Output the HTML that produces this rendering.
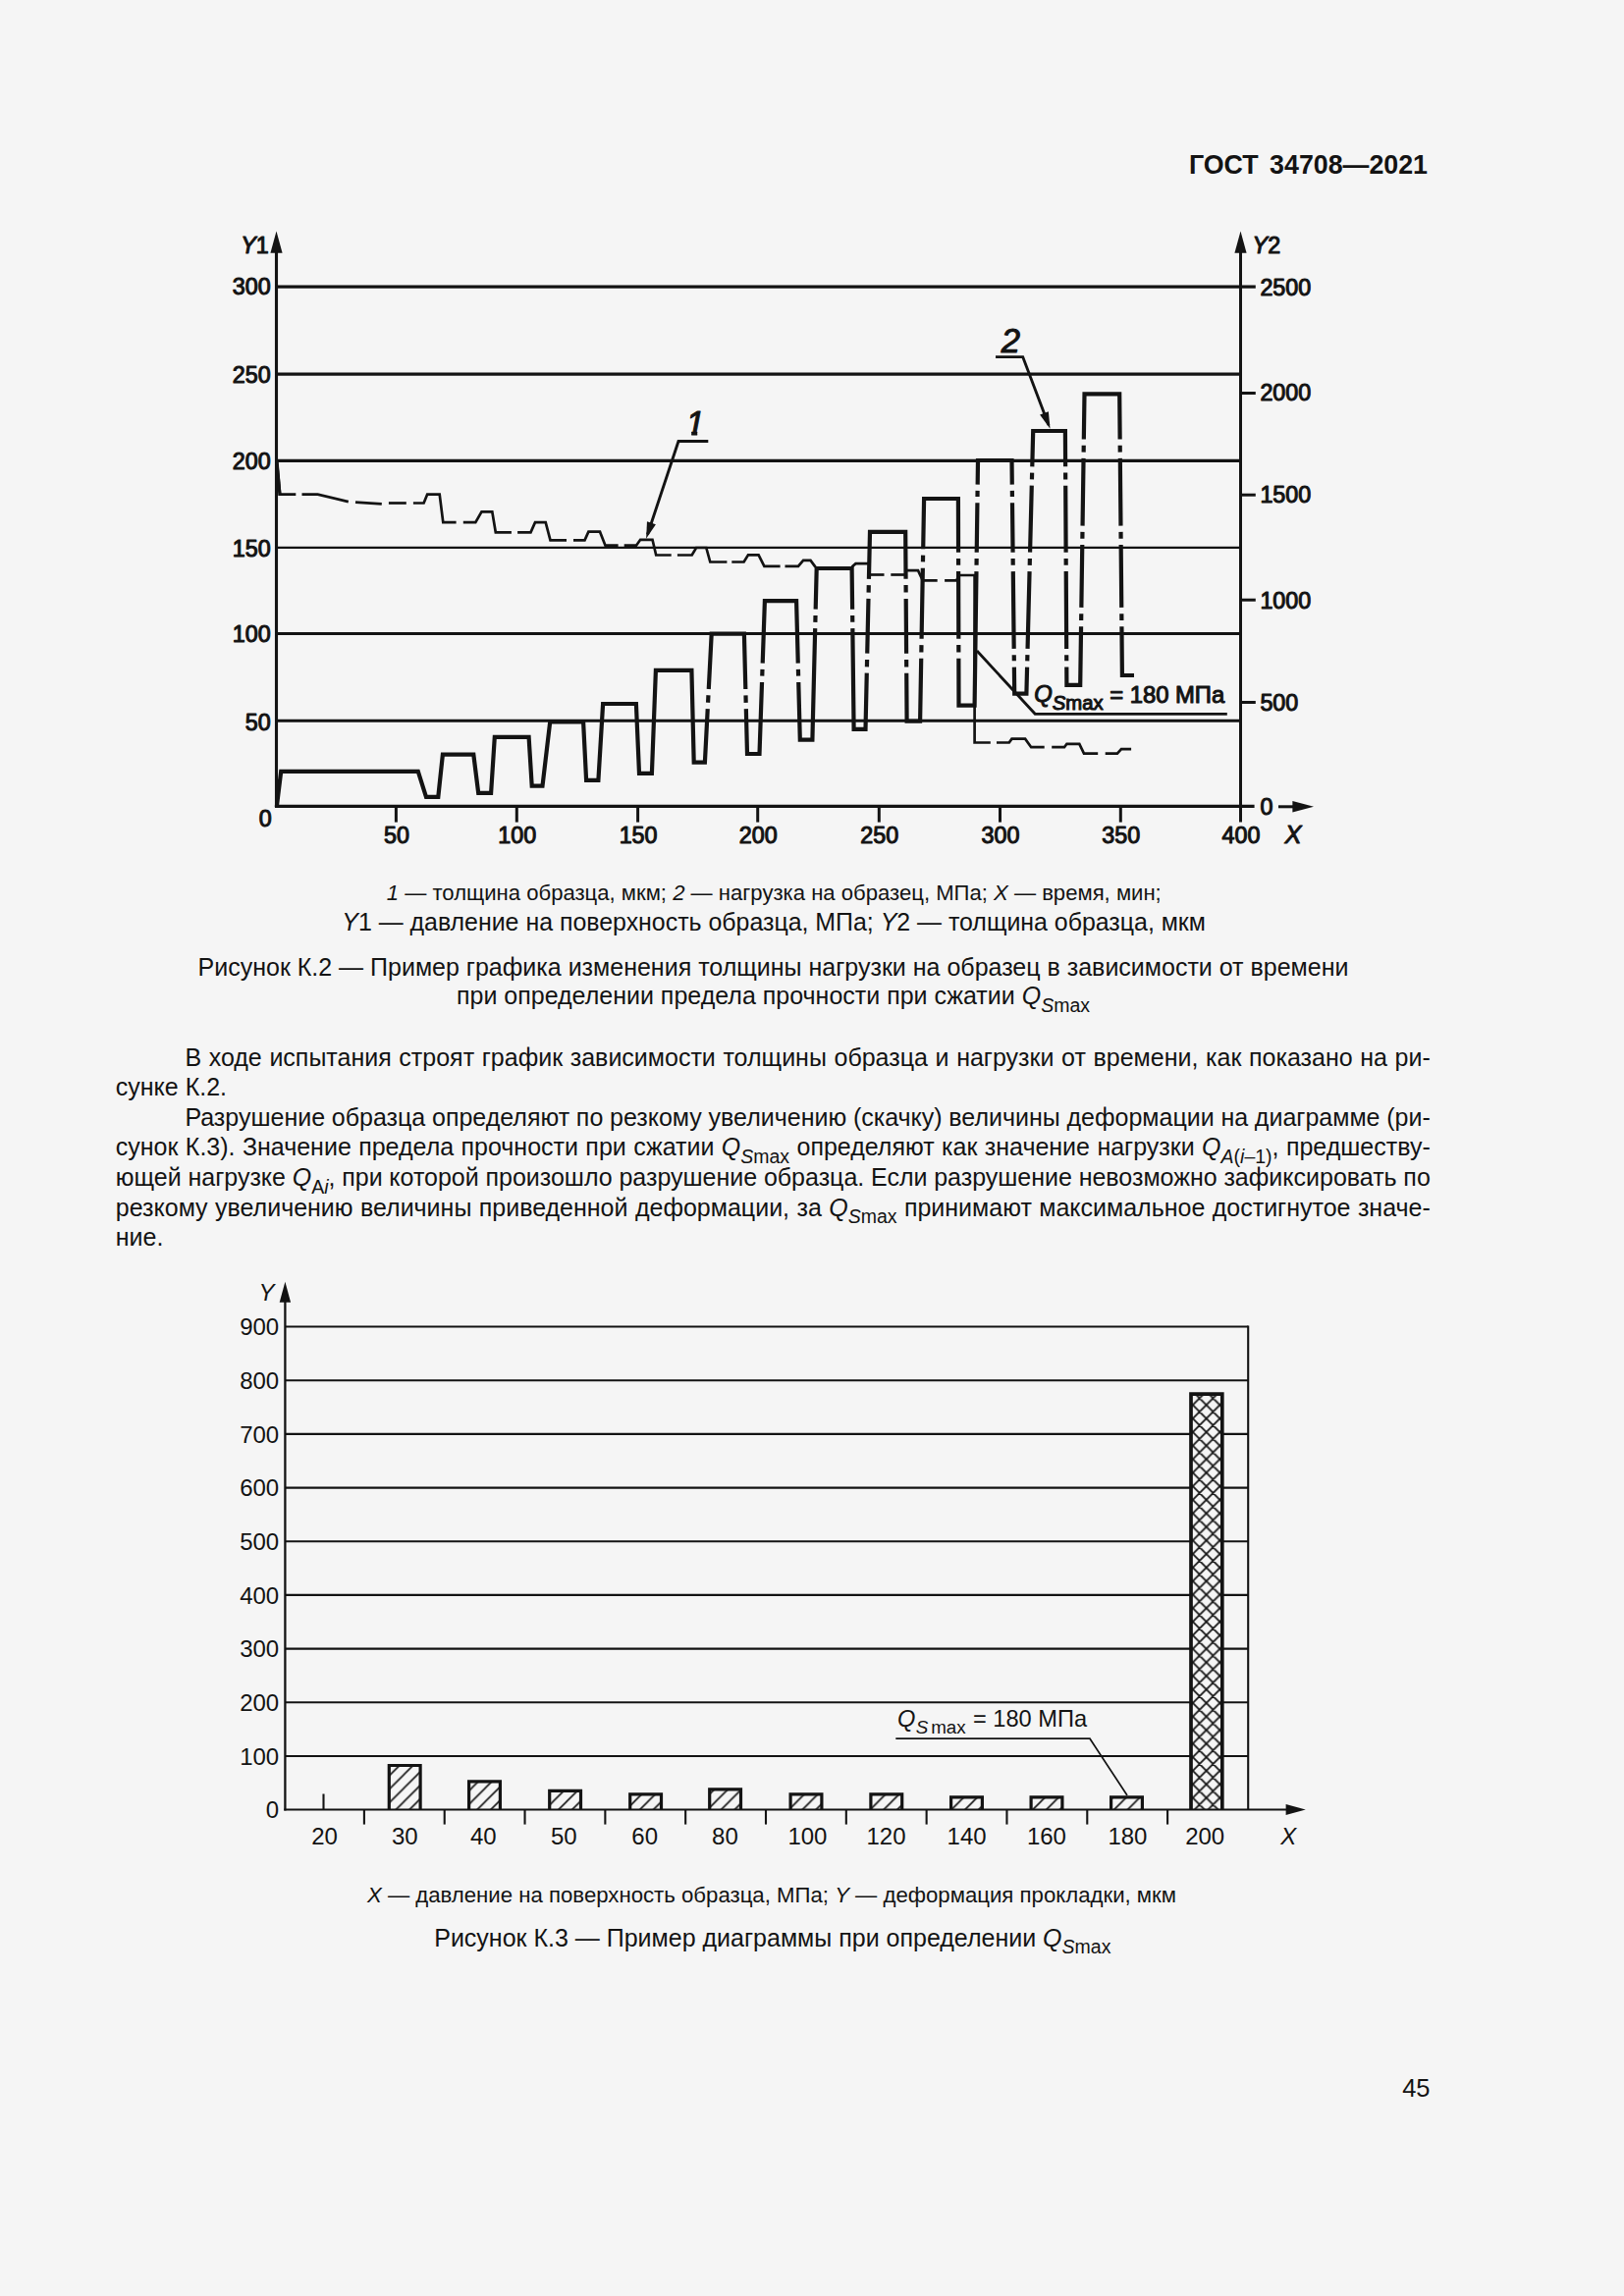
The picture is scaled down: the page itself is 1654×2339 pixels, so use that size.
<!DOCTYPE html>
<html lang="ru"><head><meta charset="utf-8"><title>ГОСТ 34708—2021</title>
<style>
html,body{margin:0;padding:0;background:#f5f5f5;}
body{width:1654px;height:2339px;position:relative;overflow:hidden;font-family:'Liberation Sans', Arial, sans-serif;color:#131313;}
svg{position:absolute;left:0;top:0;}
.t{position:absolute;white-space:nowrap;line-height:30px;font-size:25px;}
.j{text-align:justify;text-align-last:justify;white-space:nowrap;}
.s{font-size:19.5px;position:relative;top:7.8px;line-height:0;}
i{font-style:italic;}
</style></head><body>
<svg width="1654" height="2339" viewBox="0 0 1654 2339">
<g id="chart1">
<path d="M281.8 822 L286.2 785.9 L425.8 785.9 L434 811.8 L446.3 811.8 L450.9 768.7 L482.3 768.7 L487.2 807.8 L500.1 807.8 L503.8 750.9 L538.6 750.9 L541.7 800.7 L552.5 800.7 L560.2 735.5 L594.1 735.5 L597.1 794.9 L609.4 794.9 L614.1 717 L647.9 717 L651 787.8 L663.9 787.8 L667.9 682.8 L704.4 682.8 L706.7 776.7 L717.9 776.7 L724.7 645.6 L757.9 645.6 L761 768 L773.5 768 L778.9 612.2 L811.1 612.2 L814.8 753.7 L827.4 753.7 L831.7 579 L867.6 579 L869.6 742.9 L881.5 742.9 L886 541.9 L922.2 541.9 L923.6 734.6 L937.1 734.6 L941.1 508 L975.9 508 L976.5 718.6 L992.6 718.6 L996 469 L1030.5 469 L1033.2 706.7 L1045.4 706.7 L1052.2 439 L1084.9 439 L1086.4 697.9 L1100.2 697.9 L1104.5 401.3 L1140.2 401.3 L1142.9 688 L1155 688" fill="none" stroke="#131313" stroke-width="4.2" stroke-linejoin="miter" stroke-miterlimit="3"/>
<line x1="721.77" y1="702" x2="721.45" y2="708.3" stroke="#f5f5f5" stroke-width="7"/>
<line x1="721.06" y1="715.8" x2="720.73" y2="722.1" stroke="#f5f5f5" stroke-width="7"/>
<line x1="759.33" y1="702" x2="759.49" y2="708.3" stroke="#f5f5f5" stroke-width="7"/>
<line x1="759.68" y1="715.8" x2="759.84" y2="722.1" stroke="#f5f5f5" stroke-width="7"/>
<line x1="776.7" y1="675.6" x2="776.48" y2="681.9" stroke="#f5f5f5" stroke-width="7"/>
<line x1="776.25" y1="688.7" x2="776.03" y2="695" stroke="#f5f5f5" stroke-width="7"/>
<line x1="812.76" y1="675.6" x2="812.92" y2="681.9" stroke="#f5f5f5" stroke-width="7"/>
<line x1="813.1" y1="688.7" x2="813.27" y2="695" stroke="#f5f5f5" stroke-width="7"/>
<line x1="830.67" y1="620.7" x2="830.52" y2="627" stroke="#f5f5f5" stroke-width="7"/>
<line x1="830.35" y1="633.8" x2="830.2" y2="640.1" stroke="#f5f5f5" stroke-width="7"/>
<line x1="868.11" y1="620.7" x2="868.19" y2="627" stroke="#f5f5f5" stroke-width="7"/>
<line x1="868.27" y1="633.8" x2="868.35" y2="640.1" stroke="#f5f5f5" stroke-width="7"/>
<line x1="884.93" y1="589.8" x2="884.79" y2="596.1" stroke="#f5f5f5" stroke-width="7"/>
<line x1="884.62" y1="603.6" x2="884.48" y2="609.9" stroke="#f5f5f5" stroke-width="7"/>
<line x1="883.23" y1="665.7" x2="883.09" y2="672" stroke="#f5f5f5" stroke-width="7"/>
<line x1="882.92" y1="679.4" x2="882.78" y2="685.7" stroke="#f5f5f5" stroke-width="7"/>
<line x1="922.55" y1="589.8" x2="922.59" y2="596.1" stroke="#f5f5f5" stroke-width="7"/>
<line x1="922.65" y1="603.6" x2="922.69" y2="609.9" stroke="#f5f5f5" stroke-width="7"/>
<line x1="923.1" y1="665.7" x2="923.15" y2="672" stroke="#f5f5f5" stroke-width="7"/>
<line x1="923.2" y1="679.4" x2="923.24" y2="685.7" stroke="#f5f5f5" stroke-width="7"/>
<line x1="940.19" y1="559.3" x2="940.08" y2="565.6" stroke="#f5f5f5" stroke-width="7"/>
<line x1="939.96" y1="572.4" x2="939.85" y2="578.7" stroke="#f5f5f5" stroke-width="7"/>
<line x1="938.58" y1="650.8" x2="938.47" y2="657.1" stroke="#f5f5f5" stroke-width="7"/>
<line x1="938.34" y1="664.5" x2="938.23" y2="670.8" stroke="#f5f5f5" stroke-width="7"/>
<line x1="976.06" y1="562.7" x2="976.07" y2="569" stroke="#f5f5f5" stroke-width="7"/>
<line x1="976.09" y1="575.8" x2="976.11" y2="582.1" stroke="#f5f5f5" stroke-width="7"/>
<line x1="976.31" y1="650.8" x2="976.32" y2="657.1" stroke="#f5f5f5" stroke-width="7"/>
<line x1="976.35" y1="664.5" x2="976.36" y2="670.8" stroke="#f5f5f5" stroke-width="7"/>
<line x1="995.66" y1="493.6" x2="995.58" y2="499.9" stroke="#f5f5f5" stroke-width="7"/>
<line x1="995.5" y1="506" x2="995.41" y2="512.3" stroke="#f5f5f5" stroke-width="7"/>
<line x1="994.72" y1="562.7" x2="994.64" y2="569" stroke="#f5f5f5" stroke-width="7"/>
<line x1="994.55" y1="575.8" x2="994.46" y2="582.1" stroke="#f5f5f5" stroke-width="7"/>
<line x1="1030.78" y1="493.6" x2="1030.85" y2="499.9" stroke="#f5f5f5" stroke-width="7"/>
<line x1="1030.92" y1="506" x2="1030.99" y2="512.3" stroke="#f5f5f5" stroke-width="7"/>
<line x1="1031.56" y1="562.7" x2="1031.64" y2="569" stroke="#f5f5f5" stroke-width="7"/>
<line x1="1031.71" y1="575.8" x2="1031.78" y2="582.1" stroke="#f5f5f5" stroke-width="7"/>
<line x1="1032.68" y1="660.9" x2="1032.75" y2="667.2" stroke="#f5f5f5" stroke-width="7"/>
<line x1="1032.82" y1="673.3" x2="1032.89" y2="679.6" stroke="#f5f5f5" stroke-width="7"/>
<line x1="1051.28" y1="475.3" x2="1051.12" y2="481.6" stroke="#f5f5f5" stroke-width="7"/>
<line x1="1050.95" y1="488.4" x2="1050.79" y2="494.7" stroke="#f5f5f5" stroke-width="7"/>
<line x1="1049.06" y1="562.7" x2="1048.9" y2="569" stroke="#f5f5f5" stroke-width="7"/>
<line x1="1048.73" y1="575.8" x2="1048.57" y2="582.1" stroke="#f5f5f5" stroke-width="7"/>
<line x1="1046.56" y1="660.9" x2="1046.4" y2="667.2" stroke="#f5f5f5" stroke-width="7"/>
<line x1="1046.25" y1="673.3" x2="1046.09" y2="679.6" stroke="#f5f5f5" stroke-width="7"/>
<line x1="1085.11" y1="475.3" x2="1085.15" y2="481.6" stroke="#f5f5f5" stroke-width="7"/>
<line x1="1085.19" y1="488.4" x2="1085.22" y2="494.7" stroke="#f5f5f5" stroke-width="7"/>
<line x1="1085.62" y1="562.7" x2="1085.65" y2="569" stroke="#f5f5f5" stroke-width="7"/>
<line x1="1085.69" y1="575.8" x2="1085.73" y2="582.1" stroke="#f5f5f5" stroke-width="7"/>
<line x1="1086.19" y1="660.9" x2="1086.22" y2="667.2" stroke="#f5f5f5" stroke-width="7"/>
<line x1="1086.26" y1="673.3" x2="1086.29" y2="679.6" stroke="#f5f5f5" stroke-width="7"/>
<line x1="1103.83" y1="447.5" x2="1103.74" y2="453.8" stroke="#f5f5f5" stroke-width="7"/>
<line x1="1103.64" y1="460.6" x2="1103.55" y2="466.9" stroke="#f5f5f5" stroke-width="7"/>
<line x1="1102.55" y1="535.6" x2="1102.46" y2="541.9" stroke="#f5f5f5" stroke-width="7"/>
<line x1="1102.36" y1="548.7" x2="1102.27" y2="555" stroke="#f5f5f5" stroke-width="7"/>
<line x1="1101.35" y1="618.9" x2="1101.25" y2="625.2" stroke="#f5f5f5" stroke-width="7"/>
<line x1="1101.16" y1="632" x2="1101.06" y2="638.3" stroke="#f5f5f5" stroke-width="7"/>
<line x1="1140.64" y1="447.5" x2="1140.69" y2="453.8" stroke="#f5f5f5" stroke-width="7"/>
<line x1="1140.76" y1="460.6" x2="1140.82" y2="466.9" stroke="#f5f5f5" stroke-width="7"/>
<line x1="1141.46" y1="535.6" x2="1141.52" y2="541.9" stroke="#f5f5f5" stroke-width="7"/>
<line x1="1141.59" y1="548.7" x2="1141.65" y2="555" stroke="#f5f5f5" stroke-width="7"/>
<line x1="1142.25" y1="618.9" x2="1142.31" y2="625.2" stroke="#f5f5f5" stroke-width="7"/>
<line x1="1142.37" y1="632" x2="1142.43" y2="638.3" stroke="#f5f5f5" stroke-width="7"/>
<line x1="280" y1="292.2" x2="1278.8" y2="292.2" stroke="#131313" stroke-width="3.2"/>
<line x1="280" y1="381.2" x2="1263.5" y2="381.2" stroke="#131313" stroke-width="3.2"/>
<line x1="280" y1="469.4" x2="1263.5" y2="469.4" stroke="#131313" stroke-width="3.2"/>
<line x1="280" y1="557.8" x2="1263.5" y2="557.8" stroke="#131313" stroke-width="2.2"/>
<line x1="280" y1="645.5" x2="1263.5" y2="645.5" stroke="#131313" stroke-width="3.2"/>
<line x1="280" y1="734.2" x2="1263.5" y2="734.2" stroke="#131313" stroke-width="3.0"/>
<line x1="280" y1="821.3" x2="1277.6" y2="821.3" stroke="#131313" stroke-width="3.3"/>
<line x1="281.5" y1="250" x2="281.5" y2="822.9" stroke="#131313" stroke-width="3.1"/>
<line x1="1263.5" y1="250" x2="1263.5" y2="837.6" stroke="#131313" stroke-width="3.0"/>
<path d="M281.5 235.5 L287.6 257.8 L275.4 257.8 Z" fill="#131313"/>
<path d="M1263.5 235.5 L1269.6 257.8 L1257.4 257.8 Z" fill="#131313"/>
<line x1="403.4" y1="821" x2="403.4" y2="837.6" stroke="#131313" stroke-width="3"/>
<line x1="526.3" y1="821" x2="526.3" y2="837.6" stroke="#131313" stroke-width="3"/>
<line x1="649.6" y1="821" x2="649.6" y2="837.6" stroke="#131313" stroke-width="3"/>
<line x1="771.7" y1="821" x2="771.7" y2="837.6" stroke="#131313" stroke-width="3"/>
<line x1="895.3" y1="821" x2="895.3" y2="837.6" stroke="#131313" stroke-width="3"/>
<line x1="1018.5" y1="821" x2="1018.5" y2="837.6" stroke="#131313" stroke-width="3"/>
<line x1="1141.3" y1="821" x2="1141.3" y2="837.6" stroke="#131313" stroke-width="3"/>
<line x1="1263.5" y1="400.5" x2="1278.8" y2="400.5" stroke="#131313" stroke-width="3"/>
<line x1="1263.5" y1="504.2" x2="1278.8" y2="504.2" stroke="#131313" stroke-width="3"/>
<line x1="1263.5" y1="611.2" x2="1278.8" y2="611.2" stroke="#131313" stroke-width="3"/>
<line x1="1263.5" y1="715.5" x2="1278.8" y2="715.5" stroke="#131313" stroke-width="3"/>
<line x1="1302" y1="821.8" x2="1318" y2="821.8" stroke="#131313" stroke-width="3"/>
<path d="M1338 821.8 L1316.4 816 L1316.4 827.6 Z" fill="#131313"/>
<path d="M282.1 471.4 L285.2 503.6 L301.3 503.6" fill="none" stroke="#131313" stroke-width="2.7" stroke-linejoin="miter"/>
<path d="M307.5 503.6 L323.6 503.6 L354.8 511.1" fill="none" stroke="#131313" stroke-width="2.7" stroke-linejoin="miter"/>
<path d="M362 511.6 L388.8 513.4" fill="none" stroke="#131313" stroke-width="2.7" stroke-linejoin="miter"/>
<path d="M395.9 512.5 L413.8 512.5" fill="none" stroke="#131313" stroke-width="2.7" stroke-linejoin="miter"/>
<path d="M420.9 512.5 L431.6 512.5 L435.2 503.6 L447.7 503.6 L451.3 532.1 L464.6 532.1" fill="none" stroke="#131313" stroke-width="2.7" stroke-linejoin="miter"/>
<path d="M471.8 532.1 L484.3 532.1 L490.5 521.4 L501.3 521.4 L504.8 542.3 L520.9 542.3" fill="none" stroke="#131313" stroke-width="2.7" stroke-linejoin="miter"/>
<path d="M527.1 542.3 L540.5 542.3 L545 532.1 L555.7 532.1 L560.5 550.3 L577 550.3" fill="none" stroke="#131313" stroke-width="2.7" stroke-linejoin="miter"/>
<path d="M584 550.3 L595.5 550.3 L599.4 541.7 L611 541.7 L616.5 555.7 L629.6 555.7" fill="none" stroke="#131313" stroke-width="2.7" stroke-linejoin="miter"/>
<path d="M635.7 555.7 L648 555.7 L652.2 549.8 L664.5 549.8 L668.2 565.5 L683.7 565.5" fill="none" stroke="#131313" stroke-width="2.7" stroke-linejoin="miter"/>
<path d="M689.9 565.5 L704.7 565.5 L709.1 558 L719.3 558 L723.3 572.5 L740.4 572.5" fill="none" stroke="#131313" stroke-width="2.7" stroke-linejoin="miter"/>
<path d="M745.3 572.5 L757.6 572.5 L762 565.4 L772.6 565.4 L778.4 576.9 L794.6 576.9" fill="none" stroke="#131313" stroke-width="2.7" stroke-linejoin="miter"/>
<path d="M799.5 576.9 L813 576.9 L818.1 570.9 L825.5 570.9 L830.5 577.6" fill="none" stroke="#131313" stroke-width="2.7" stroke-linejoin="miter"/>
<path d="M867.6 577.5 L871.5 574.2 L884.5 574.2" fill="none" stroke="#131313" stroke-width="2.7" stroke-linejoin="miter"/>
<path d="M886.9 585.5 L900.5 585.5" fill="none" stroke="#131313" stroke-width="2.7" stroke-linejoin="miter"/>
<path d="M907.3 585.5 L921 585.5" fill="none" stroke="#131313" stroke-width="2.7" stroke-linejoin="miter"/>
<path d="M922.2 581.2 L935 581.2 L939.8 591.4 L954.7 591.4" fill="none" stroke="#131313" stroke-width="2.7" stroke-linejoin="miter"/>
<path d="M962.1 591.4 L974.3 591.4 L976.3 586 L992.6 586 L992.6 756.5 L1008.8 756.5" fill="none" stroke="#131313" stroke-width="2.7" stroke-linejoin="miter"/>
<path d="M1015 756.5 L1027.8 756.5 L1030.5 752.7 L1044.1 752.7 L1050.2 761.2 L1063.7 761.2" fill="none" stroke="#131313" stroke-width="2.7" stroke-linejoin="miter"/>
<path d="M1071.2 761.2 L1084 761.2 L1086.5 757.8 L1099.3 757.8 L1104 767.7 L1118.2 767.7" fill="none" stroke="#131313" stroke-width="2.7" stroke-linejoin="miter"/>
<path d="M1125.7 767.7 L1137.9 767.7 L1142 763.2 L1152.1 763.2" fill="none" stroke="#131313" stroke-width="2.7" stroke-linejoin="miter"/>
<path d="M280.6 469.4 L283.6 469.4 L286.6 504.9 L283.4 504.9 Z" fill="#131313"/>
<path d="M721.3 449.5 L691 449.5 L659.5 544.5" fill="none" stroke="#131313" stroke-width="2.9"/>
<path d="M658.1 548.8 L658.99 531.18 L667.91 534.14 Z" fill="#131313"/>
<path d="M1014 363.6 L1041.7 363.6 L1068 433" fill="none" stroke="#131313" stroke-width="2.9"/>
<path d="M1069.5 436.8 L1059.07 422.58 L1067.86 419.24 Z" fill="#131313"/>
<path d="M995 663 L1054.2 727.3 L1249.8 727.3" fill="none" stroke="#131313" stroke-width="2.8"/>
<text x="275.7" y="299.9" font-size="23.3" text-anchor="end" font-family="'Liberation Sans', Arial, sans-serif" fill="#131313" stroke="#131313" stroke-width="1.05" stroke-linejoin="round" >300</text>
<text x="275.7" y="390.2" font-size="23.3" text-anchor="end" font-family="'Liberation Sans', Arial, sans-serif" fill="#131313" stroke="#131313" stroke-width="1.05" stroke-linejoin="round" >250</text>
<text x="275.7" y="478.1" font-size="23.3" text-anchor="end" font-family="'Liberation Sans', Arial, sans-serif" fill="#131313" stroke="#131313" stroke-width="1.05" stroke-linejoin="round" >200</text>
<text x="275.7" y="567" font-size="23.3" text-anchor="end" font-family="'Liberation Sans', Arial, sans-serif" fill="#131313" stroke="#131313" stroke-width="1.05" stroke-linejoin="round" >150</text>
<text x="275.7" y="653.6" font-size="23.3" text-anchor="end" font-family="'Liberation Sans', Arial, sans-serif" fill="#131313" stroke="#131313" stroke-width="1.05" stroke-linejoin="round" >100</text>
<text x="275.7" y="744.2" font-size="23.3" text-anchor="end" font-family="'Liberation Sans', Arial, sans-serif" fill="#131313" stroke="#131313" stroke-width="1.05" stroke-linejoin="round" >50</text>
<text x="276.6" y="841.8" font-size="23.3" text-anchor="end" font-family="'Liberation Sans', Arial, sans-serif" fill="#131313" stroke="#131313" stroke-width="1.05" stroke-linejoin="round" >0</text>
<text x="403.9" y="859.1" font-size="23.3" text-anchor="middle" font-family="'Liberation Sans', Arial, sans-serif" fill="#131313" stroke="#131313" stroke-width="1.05" stroke-linejoin="round" >50</text>
<text x="526.8" y="859.1" font-size="23.3" text-anchor="middle" font-family="'Liberation Sans', Arial, sans-serif" fill="#131313" stroke="#131313" stroke-width="1.05" stroke-linejoin="round" >100</text>
<text x="650.1" y="859.1" font-size="23.3" text-anchor="middle" font-family="'Liberation Sans', Arial, sans-serif" fill="#131313" stroke="#131313" stroke-width="1.05" stroke-linejoin="round" >150</text>
<text x="772.2" y="859.1" font-size="23.3" text-anchor="middle" font-family="'Liberation Sans', Arial, sans-serif" fill="#131313" stroke="#131313" stroke-width="1.05" stroke-linejoin="round" >200</text>
<text x="895.8" y="859.1" font-size="23.3" text-anchor="middle" font-family="'Liberation Sans', Arial, sans-serif" fill="#131313" stroke="#131313" stroke-width="1.05" stroke-linejoin="round" >250</text>
<text x="1019" y="859.1" font-size="23.3" text-anchor="middle" font-family="'Liberation Sans', Arial, sans-serif" fill="#131313" stroke="#131313" stroke-width="1.05" stroke-linejoin="round" >300</text>
<text x="1141.8" y="859.1" font-size="23.3" text-anchor="middle" font-family="'Liberation Sans', Arial, sans-serif" fill="#131313" stroke="#131313" stroke-width="1.05" stroke-linejoin="round" >350</text>
<text x="1264" y="859.1" font-size="23.3" text-anchor="middle" font-family="'Liberation Sans', Arial, sans-serif" fill="#131313" stroke="#131313" stroke-width="1.05" stroke-linejoin="round" >400</text>
<text x="1283.4" y="301.1" font-size="23.3" text-anchor="start" font-family="'Liberation Sans', Arial, sans-serif" fill="#131313" stroke="#131313" stroke-width="1.05" stroke-linejoin="round" >2500</text>
<text x="1283.4" y="408.2" font-size="23.3" text-anchor="start" font-family="'Liberation Sans', Arial, sans-serif" fill="#131313" stroke="#131313" stroke-width="1.05" stroke-linejoin="round" >2000</text>
<text x="1283.4" y="512.2" font-size="23.3" text-anchor="start" font-family="'Liberation Sans', Arial, sans-serif" fill="#131313" stroke="#131313" stroke-width="1.05" stroke-linejoin="round" >1500</text>
<text x="1283.4" y="619.9" font-size="23.3" text-anchor="start" font-family="'Liberation Sans', Arial, sans-serif" fill="#131313" stroke="#131313" stroke-width="1.05" stroke-linejoin="round" >1000</text>
<text x="1283.4" y="724.2" font-size="23.3" text-anchor="start" font-family="'Liberation Sans', Arial, sans-serif" fill="#131313" stroke="#131313" stroke-width="1.05" stroke-linejoin="round" >500</text>
<text x="1283.4" y="830.1" font-size="23.3" text-anchor="start" font-family="'Liberation Sans', Arial, sans-serif" fill="#131313" stroke="#131313" stroke-width="1.05" stroke-linejoin="round" >0</text>
<text x="245.2" y="257.6" font-size="23.3" text-anchor="start" font-family="'Liberation Sans', Arial, sans-serif" fill="#131313" stroke="#131313" stroke-width="1.05" stroke-linejoin="round" ><tspan font-style="italic">Y</tspan>1</text>
<text x="1275.6" y="257.6" font-size="23.3" text-anchor="start" font-family="'Liberation Sans', Arial, sans-serif" fill="#131313" stroke="#131313" stroke-width="1.05" stroke-linejoin="round" ><tspan font-style="italic">Y</tspan>2</text>
<text x="1308.4" y="859.3" font-size="25.6" text-anchor="start" font-family="'Liberation Sans', Arial, sans-serif" fill="#131313" stroke="#131313" stroke-width="1.05" stroke-linejoin="round" font-style="italic">X</text>
<clipPath id="c1"><path d="M680 400 H740 V438.7 H710.2 V447 H704.2 V438.7 H680 Z"/></clipPath>
<text x="698.5" y="442.6" font-size="34.5" text-anchor="start" font-family="'Liberation Sans', Arial, sans-serif" fill="#131313" stroke="#131313" stroke-width="1.05" stroke-linejoin="round" font-style="italic" clip-path="url(#c1)">1</text>
<text x="1019.8" y="358.6" font-size="34.5" text-anchor="start" font-family="'Liberation Sans', Arial, sans-serif" fill="#131313" stroke="#131313" stroke-width="1.05" stroke-linejoin="round" font-style="italic">2</text>
<text x="1053.2" y="715.6" font-size="23.8" font-family="'Liberation Sans', Arial, sans-serif" fill="#131313" stroke="#131313" stroke-width="1.05" stroke-linejoin="round"><tspan font-style="italic" dy="-0.8">Q</tspan><tspan dy="7.9" font-size="20.3"><tspan font-style="italic">S</tspan>max</tspan><tspan dy="-7.1"> = 180 МПа</tspan></text>
</g>
<g id="chart2">
<line x1="290.4" y1="1788.93" x2="1271.2" y2="1788.93" stroke="#131313" stroke-width="2.1"/>
<line x1="290.4" y1="1734.26" x2="1271.2" y2="1734.26" stroke="#131313" stroke-width="2.1"/>
<line x1="290.4" y1="1679.59" x2="1271.2" y2="1679.59" stroke="#131313" stroke-width="2.1"/>
<line x1="290.4" y1="1624.92" x2="1271.2" y2="1624.92" stroke="#131313" stroke-width="2.1"/>
<line x1="290.4" y1="1570.25" x2="1271.2" y2="1570.25" stroke="#131313" stroke-width="2.1"/>
<line x1="290.4" y1="1515.58" x2="1271.2" y2="1515.58" stroke="#131313" stroke-width="2.1"/>
<line x1="290.4" y1="1460.91" x2="1271.2" y2="1460.91" stroke="#131313" stroke-width="2.1"/>
<line x1="290.4" y1="1406.24" x2="1271.2" y2="1406.24" stroke="#131313" stroke-width="2.1"/>
<line x1="290.4" y1="1351.57" x2="1271.2" y2="1351.57" stroke="#131313" stroke-width="2.1"/>
<line x1="1271.2" y1="1350.57" x2="1271.2" y2="1843.5" stroke="#131313" stroke-width="2.1"/>
<line x1="290.4" y1="1320" x2="290.4" y2="1844.6" stroke="#131313" stroke-width="2.3"/>
<path d="M290.4 1305.8 L296.1 1326.8 L284.7 1326.8 Z" fill="#131313"/>
<path d="M1329.8 1843.5 L1309.6 1837.9 L1309.6 1849.1 Z" fill="#131313"/>
<line x1="329.5" y1="1843.5" x2="329.5" y2="1827.5" stroke="#131313" stroke-width="2.1"/>
<line x1="370.9" y1="1843.5" x2="370.9" y2="1858.6" stroke="#131313" stroke-width="2.1"/>
<line x1="452.72" y1="1843.5" x2="452.72" y2="1858.6" stroke="#131313" stroke-width="2.1"/>
<line x1="534.54" y1="1843.5" x2="534.54" y2="1858.6" stroke="#131313" stroke-width="2.1"/>
<line x1="616.36" y1="1843.5" x2="616.36" y2="1858.6" stroke="#131313" stroke-width="2.1"/>
<line x1="698.18" y1="1843.5" x2="698.18" y2="1858.6" stroke="#131313" stroke-width="2.1"/>
<line x1="780" y1="1843.5" x2="780" y2="1858.6" stroke="#131313" stroke-width="2.1"/>
<line x1="861.82" y1="1843.5" x2="861.82" y2="1858.6" stroke="#131313" stroke-width="2.1"/>
<line x1="943.64" y1="1843.5" x2="943.64" y2="1858.6" stroke="#131313" stroke-width="2.1"/>
<line x1="1025.46" y1="1843.5" x2="1025.46" y2="1858.6" stroke="#131313" stroke-width="2.1"/>
<line x1="1107.28" y1="1843.5" x2="1107.28" y2="1858.6" stroke="#131313" stroke-width="2.1"/>
<line x1="1189.1" y1="1843.5" x2="1189.1" y2="1858.6" stroke="#131313" stroke-width="2.1"/>
<defs><pattern id="h1" patternUnits="userSpaceOnUse" width="13.8" height="13.8" x="11.2" y="0"><path d="M-2 2 L2 -2 M-2 15.8 L15.8 -2 M11.8 15.8 L15.8 11.8" stroke="#131313" stroke-width="1.6" fill="none"/></pattern><pattern id="h2" patternUnits="userSpaceOnUse" width="13.8" height="13.8" x="1214.8" y="1417.5"><path d="M0 0 L13.8 13.8 M0 13.8 L13.8 0 M-2 2 L2 -2 M11.8 15.8 L15.8 11.8 M-2 11.8 L2 15.8 M11.8 -2 L15.8 2" stroke="#131313" stroke-width="1.8" fill="none"/></pattern></defs>
<rect x="396.3" y="1798.5" width="31.8" height="45" fill="#f5f5f5"/>
<rect x="396.3" y="1798.5" width="31.8" height="45" fill="url(#h1)"/>
<path d="M396.3 1843.5 L396.3 1798.5 L428.1 1798.5 L428.1 1843.5" fill="none" stroke="#131313" stroke-width="3.2"/>
<rect x="477.6" y="1814.9" width="31.8" height="28.6" fill="#f5f5f5"/>
<rect x="477.6" y="1814.9" width="31.8" height="28.6" fill="url(#h1)"/>
<path d="M477.6 1843.5 L477.6 1814.9 L509.4 1814.9 L509.4 1843.5" fill="none" stroke="#131313" stroke-width="3.2"/>
<rect x="559.7" y="1824.4" width="31.8" height="19.1" fill="#f5f5f5"/>
<rect x="559.7" y="1824.4" width="31.8" height="19.1" fill="url(#h1)"/>
<path d="M559.7 1843.5 L559.7 1824.4 L591.5 1824.4 L591.5 1843.5" fill="none" stroke="#131313" stroke-width="3.2"/>
<rect x="641.7" y="1827.9" width="31.8" height="15.6" fill="#f5f5f5"/>
<rect x="641.7" y="1827.9" width="31.8" height="15.6" fill="url(#h1)"/>
<path d="M641.7 1843.5 L641.7 1827.9 L673.5 1827.9 L673.5 1843.5" fill="none" stroke="#131313" stroke-width="3.2"/>
<rect x="722.7" y="1822.9" width="31.8" height="20.6" fill="#f5f5f5"/>
<rect x="722.7" y="1822.9" width="31.8" height="20.6" fill="url(#h1)"/>
<path d="M722.7 1843.5 L722.7 1822.9 L754.5 1822.9 L754.5 1843.5" fill="none" stroke="#131313" stroke-width="3.2"/>
<rect x="805.1" y="1827.9" width="31.8" height="15.6" fill="#f5f5f5"/>
<rect x="805.1" y="1827.9" width="31.8" height="15.6" fill="url(#h1)"/>
<path d="M805.1 1843.5 L805.1 1827.9 L836.9 1827.9 L836.9 1843.5" fill="none" stroke="#131313" stroke-width="3.2"/>
<rect x="886.9" y="1827.9" width="31.8" height="15.6" fill="#f5f5f5"/>
<rect x="886.9" y="1827.9" width="31.8" height="15.6" fill="url(#h1)"/>
<path d="M886.9 1843.5 L886.9 1827.9 L918.7 1827.9 L918.7 1843.5" fill="none" stroke="#131313" stroke-width="3.2"/>
<rect x="968.6" y="1830.9" width="31.8" height="12.6" fill="#f5f5f5"/>
<rect x="968.6" y="1830.9" width="31.8" height="12.6" fill="url(#h1)"/>
<path d="M968.6 1843.5 L968.6 1830.9 L1000.4 1830.9 L1000.4 1843.5" fill="none" stroke="#131313" stroke-width="3.2"/>
<rect x="1050.1" y="1830.9" width="31.8" height="12.6" fill="#f5f5f5"/>
<rect x="1050.1" y="1830.9" width="31.8" height="12.6" fill="url(#h1)"/>
<path d="M1050.1 1843.5 L1050.1 1830.9 L1081.9 1830.9 L1081.9 1843.5" fill="none" stroke="#131313" stroke-width="3.2"/>
<rect x="1131.6" y="1830.9" width="31.8" height="12.6" fill="#f5f5f5"/>
<rect x="1131.6" y="1830.9" width="31.8" height="12.6" fill="url(#h1)"/>
<path d="M1131.6 1843.5 L1131.6 1830.9 L1163.4 1830.9 L1163.4 1843.5" fill="none" stroke="#131313" stroke-width="3.2"/>
<rect x="1213" y="1420.1" width="31.8" height="423.4" fill="#f5f5f5"/>
<rect x="1213" y="1420.1" width="31.8" height="423.4" fill="url(#h2)"/>
<path d="M1213 1843.5 L1213 1420.1 L1244.8 1420.1 L1244.8 1843.5" fill="none" stroke="#131313" stroke-width="3.7"/>
<line x1="289.3" y1="1843.5" x2="1312" y2="1843.5" stroke="#131313" stroke-width="2.2"/>
<path d="M912.3 1771.2 L1110 1771.2 L1148 1829" fill="none" stroke="#131313" stroke-width="1.7"/>
<text x="284.2" y="1852.3" font-size="24" text-anchor="end" font-family="'Liberation Sans', Arial, sans-serif" fill="#131313" >0</text>
<text x="284.2" y="1797.63" font-size="24" text-anchor="end" font-family="'Liberation Sans', Arial, sans-serif" fill="#131313" >100</text>
<text x="284.2" y="1742.96" font-size="24" text-anchor="end" font-family="'Liberation Sans', Arial, sans-serif" fill="#131313" >200</text>
<text x="284.2" y="1688.29" font-size="24" text-anchor="end" font-family="'Liberation Sans', Arial, sans-serif" fill="#131313" >300</text>
<text x="284.2" y="1633.62" font-size="24" text-anchor="end" font-family="'Liberation Sans', Arial, sans-serif" fill="#131313" >400</text>
<text x="284.2" y="1578.95" font-size="24" text-anchor="end" font-family="'Liberation Sans', Arial, sans-serif" fill="#131313" >500</text>
<text x="284.2" y="1524.28" font-size="24" text-anchor="end" font-family="'Liberation Sans', Arial, sans-serif" fill="#131313" >600</text>
<text x="284.2" y="1469.61" font-size="24" text-anchor="end" font-family="'Liberation Sans', Arial, sans-serif" fill="#131313" >700</text>
<text x="284.2" y="1414.94" font-size="24" text-anchor="end" font-family="'Liberation Sans', Arial, sans-serif" fill="#131313" >800</text>
<text x="284.2" y="1360.27" font-size="24" text-anchor="end" font-family="'Liberation Sans', Arial, sans-serif" fill="#131313" >900</text>
<text x="330.5" y="1878.6" font-size="24" text-anchor="middle" font-family="'Liberation Sans', Arial, sans-serif" fill="#131313" >20</text>
<text x="412.3" y="1878.6" font-size="24" text-anchor="middle" font-family="'Liberation Sans', Arial, sans-serif" fill="#131313" >30</text>
<text x="492.3" y="1878.6" font-size="24" text-anchor="middle" font-family="'Liberation Sans', Arial, sans-serif" fill="#131313" >40</text>
<text x="574.3" y="1878.6" font-size="24" text-anchor="middle" font-family="'Liberation Sans', Arial, sans-serif" fill="#131313" >50</text>
<text x="656.7" y="1878.6" font-size="24" text-anchor="middle" font-family="'Liberation Sans', Arial, sans-serif" fill="#131313" >60</text>
<text x="738.4" y="1878.6" font-size="24" text-anchor="middle" font-family="'Liberation Sans', Arial, sans-serif" fill="#131313" >80</text>
<text x="822.4" y="1878.6" font-size="24" text-anchor="middle" font-family="'Liberation Sans', Arial, sans-serif" fill="#131313" >100</text>
<text x="902.5" y="1878.6" font-size="24" text-anchor="middle" font-family="'Liberation Sans', Arial, sans-serif" fill="#131313" >120</text>
<text x="984.6" y="1878.6" font-size="24" text-anchor="middle" font-family="'Liberation Sans', Arial, sans-serif" fill="#131313" >140</text>
<text x="1065.9" y="1878.6" font-size="24" text-anchor="middle" font-family="'Liberation Sans', Arial, sans-serif" fill="#131313" >160</text>
<text x="1148.4" y="1878.6" font-size="24" text-anchor="middle" font-family="'Liberation Sans', Arial, sans-serif" fill="#131313" >180</text>
<text x="1227.2" y="1878.6" font-size="24" text-anchor="middle" font-family="'Liberation Sans', Arial, sans-serif" fill="#131313" >200</text>
<text x="263.6" y="1325.4" font-size="24" text-anchor="start" font-family="'Liberation Sans', Arial, sans-serif" fill="#131313" font-style="italic">Y</text>
<text x="1304.2" y="1878.6" font-size="24" text-anchor="start" font-family="'Liberation Sans', Arial, sans-serif" fill="#131313" font-style="italic">X</text>
<text x="913.9" y="1758.8" font-size="23.6" font-family="'Liberation Sans', Arial, sans-serif" fill="#131313"><tspan font-style="italic">Q</tspan><tspan dy="7.6" font-size="18.8" dx="0.4"><tspan font-style="italic">S</tspan><tspan dx="3">max</tspan></tspan><tspan dy="-7.6" dx="0.8"> = 180 МПа</tspan></text>
</g>
</svg>
<div class="t" style="left:1100px;top:152.81px;font-size:26.8px;width:354px;text-align:right;font-weight:bold;word-spacing:4px;">ГОСТ 34708—2021</div>
<div class="t" style="left:200.8px;top:895.14px;font-size:22.1px;width:1175px;text-align:center;"><i>1</i> — толщина образца, мкм; <i>2</i> — нагрузка на образец, МПа; <i>X</i> — время, мин;</div>
<div class="t" style="left:200.6px;top:923.67px;font-size:24.92px;width:1175px;text-align:center;"><i>Y</i>1 — давление на поверхность образца, МПа; <i>Y</i>2 — толщина образца, мкм</div>
<div class="t" style="left:118px;top:969.64px;font-size:25px;width:1339px;text-align:center;">Рисунок К.2 — Пример графика изменения толщины нагрузки на образец в зависимости от времени</div>
<div class="t" style="left:118px;top:999.44px;font-size:25px;width:1339px;text-align:center;">при определении предела прочности при сжатии <i>Q</i><span class="s"><i>S</i>max</span></div>
<div class="t j" style="left:188.4px;top:1061.64px;font-size:25px;width:1268.4px;word-spacing:-0.6px;">В ходе испытания строят график зависимости толщины образца и нагрузки от времени, как показано на ри-</div>
<div class="t" style="left:117.8px;top:1092.24px;font-size:25px;">сунке К.2.</div>
<div class="t j" style="left:188.4px;top:1122.84px;font-size:25px;width:1268.4px;word-spacing:-0.6px;">Разрушение образца определяют по резкому увеличению (скачку) величины деформации на диаграмме (ри-</div>
<div class="t j" style="left:117.8px;top:1153.44px;font-size:25px;width:1339px;word-spacing:-0.6px;">сунок К.3). Значение предела прочности при сжатии <i>Q</i><span class="s"><i>S</i>max</span> определяют как значение нагрузки <i>Q</i><span class="s"><i>A</i>(<i>i</i>–1)</span>, предшеству-</div>
<div class="t j" style="left:117.8px;top:1184.04px;font-size:25px;width:1339px;word-spacing:-0.6px;">ющей нагрузке <i>Q</i><span class="s">A<i>i</i></span>, при которой произошло разрушение образца. Если разрушение невозможно зафиксировать по</div>
<div class="t j" style="left:117.8px;top:1214.64px;font-size:25px;width:1339px;word-spacing:-0.6px;">резкому увеличению величины приведенной деформации, за <i>Q</i><span class="s"><i>S</i>max</span> принимают максимальное достигнутое значе-</div>
<div class="t" style="left:117.8px;top:1245.24px;font-size:25px;">ние.</div>
<div class="t" style="left:200px;top:1915.51px;font-size:22.2px;width:1172px;text-align:center;"><i>X</i> — давление на поверхность образца, МПа; <i>Y</i> — деформация прокладки, мкм</div>
<div class="t" style="left:117.3px;top:1958.64px;font-size:25px;width:1339px;text-align:center;">Рисунок К.3 — Пример диаграммы при определении <i>Q</i><span class="s"><i>S</i>max</span></div>
<div class="t" style="left:1300px;top:2112.36px;font-size:25.5px;width:156.5px;text-align:right;">45</div>
</body></html>
